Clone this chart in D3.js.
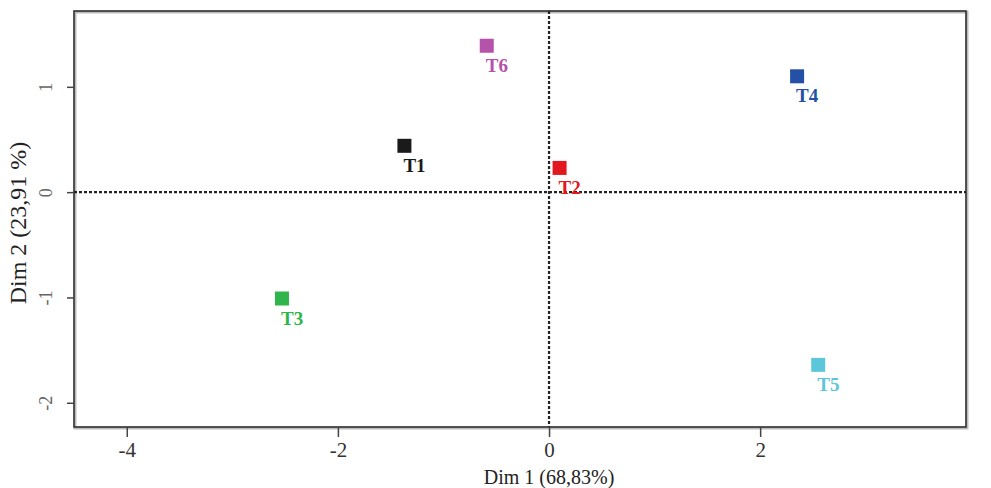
<!DOCTYPE html>
<html><head><meta charset="utf-8">
<script src="https://cdn.jsdelivr.net/npm/d3@7"></script>
<style>body{margin:0;background:#fff}svg{display:block}</style>
</head><body>
<svg id="c" width="991" height="488"></svg>
<script>
const labels = ["T1","T2","T3","T4","T5","T6"];
const dim1 = [-1.37, 0.10, -2.53, 2.35, 2.55, -0.59];
const dim2 = [0.44, 0.23, -1.01, 1.10, -1.64, 1.39];
const colors = ["#1a1a1a","#e3171f","#2fb54b","#2450a6","#5cc6da","#b552aa"];
const xTicks = [-4,-2,0,2];
const yTicks = [-2,-1,0,1];
const xTitle = "Dim 1 (68,83%)";
const yTitle = "Dim 2 (23,91 %)";

const svg = d3.select("#c");
const L=74, R=966, T=11, B=427;
const x = d3.scaleLinear().domain([-4.5,3.95]).range([L,R]);
const y = d3.scaleLinear().domain([-2.23,1.72]).range([B,T]);
const font = "'Liberation Serif','Times New Roman',Times,serif";

// box shadow + box
svg.append("rect").attr("x",L+1).attr("y",T+1).attr("width",R-L).attr("height",B-T)
  .attr("fill","none").attr("stroke","#bbb").attr("stroke-width",3);
svg.append("rect").attr("x",L).attr("y",T).attr("width",R-L).attr("height",B-T)
  .attr("fill","none").attr("stroke","#333").attr("stroke-width",1.6);

// zero lines
svg.append("line").attr("x1",L).attr("x2",R).attr("y1",y(0)).attr("y2",y(0))
  .attr("stroke","#222").attr("stroke-width",2.2).attr("stroke-dasharray","3,2");
svg.append("line").attr("y1",T).attr("y2",B).attr("x1",x(0)).attr("x2",x(0))
  .attr("stroke","#222").attr("stroke-width",2.2).attr("stroke-dasharray","3,2");

// x axis
const xa = svg.append("g").attr("transform",`translate(0,${B})`)
  .call(d3.axisBottom(x).tickValues(xTicks).tickSize(10).tickFormat(d3.format("d")));
xa.select(".domain").remove();
xa.selectAll("line").attr("stroke","#444").attr("stroke-width",1.5);
xa.selectAll("text").attr("font-family",font).attr("font-size",21).attr("fill","#333")
  .attr("dy","0.8em").text(d=>String(d));

// y axis
const ya = svg.append("g").attr("transform",`translate(${L},0)`)
  .call(d3.axisLeft(y).tickValues(yTicks).tickSize(7).tickFormat(d3.format("d")));
ya.select(".domain").remove();
ya.selectAll("line").attr("stroke","#444").attr("stroke-width",1.5);
ya.selectAll("text").remove();
ya.selectAll(".tick").append("text")
  .attr("transform","translate(-28,0) rotate(-90)")
  .attr("text-anchor","middle").attr("dy","0.35em")
  .attr("font-family",font).attr("font-size",18).attr("fill","#666")
  .text(d=>String(d));

// titles
svg.append("text").attr("x",x(0)).attr("y",484).attr("text-anchor","middle")
  .attr("font-family",font).attr("font-size",20).attr("fill","#222").text(xTitle);
svg.append("text").attr("transform",`translate(26,${(T+B)/2+4}) rotate(-90)`)
  .attr("text-anchor","middle").attr("font-family",font).attr("font-size",24)
  .attr("fill","#222").text(yTitle);

// points
const data = labels.map((l,i)=>({l, a:dim1[i], b:dim2[i], c:colors[i]}));
const g = svg.append("g");
g.selectAll("rect.pt").data(data).join("rect").attr("class","pt")
  .attr("x",d=>x(d.a)-7).attr("y",d=>y(d.b)-7).attr("width",14).attr("height",14)
  .attr("fill",d=>d.c);
g.selectAll("text.lb").data(data).join("text").attr("class","lb")
  .attr("x",d=>x(d.a)-1).attr("y",d=>y(d.b)+26)
  .attr("font-family",font).attr("font-size",19).attr("font-weight","bold")
  .attr("fill",d=>d.c).text(d=>d.l);
</script>
</body></html>
